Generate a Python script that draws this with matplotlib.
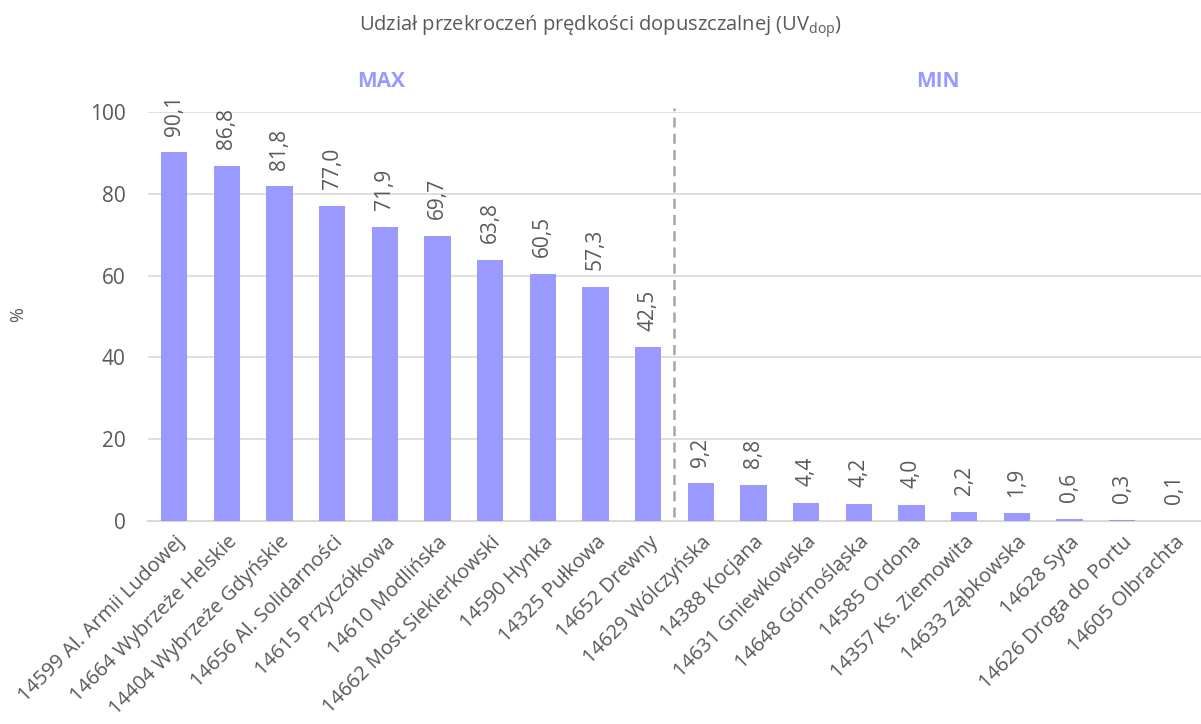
import matplotlib
matplotlib.use("Agg")
import matplotlib.pyplot as plt

plt.rcParams['font.family'] = ['Open Sans', 'DejaVu Sans']
plt.rcParams['mathtext.fontset'] = 'custom'
plt.rcParams['mathtext.rm'] = 'Open Sans'

categories = [
    "14599 Al. Armii Ludowej", "14664 Wybrzeże Helskie", "14404 Wybrzeże Gdyńskie",
    "14656 Al. Solidarności", "14615 Przyczółkowa", "14610 Modlińska",
    "14662 Most Siekierkowski", "14590 Hynka", "14325 Pułkowa", "14652 Drewny",
    "14629 Wólczyńska", "14388 Kocjana", "14631 Gniewkowska", "14648 Górnośląska",
    "14585 Ordona", "14357 Ks. Ziemowita", "14633 Ząbkowska", "14628 Syta",
    "14626 Droga do Portu", "14605 Olbrachta",
]
values = [90.1, 86.8, 81.8, 77.0, 71.9, 69.7, 63.8, 60.5, 57.3, 42.5,
          9.2, 8.8, 4.4, 4.2, 4.0, 2.2, 1.9, 0.6, 0.3, 0.1]
group_labels = ["MAX", "MIN"]

bar_color = "#9999ff"
text_color = "#595959"

fig = plt.figure(figsize=(12.01, 7.24), dpi=100)
ax = fig.add_axes([0.1232, 0.2804, 0.8768, 0.5649])

x = list(range(len(values)))
ax.bar(x, values, width=0.5, color=bar_color, zorder=3)

for xi, v in zip(x, values):
    ax.annotate(f"{v:.1f}".replace(".", ","), (xi, v), xytext=(0, 12),
                textcoords="offset points", rotation=90, ha="center", va="bottom",
                fontsize=15, color=text_color, clip_on=False)

ax.set_xlim(-0.5, len(values) - 0.5)
ax.set_ylim(0, 100)
ax.set_yticks([0, 20, 40, 60, 80, 100])
ax.yaxis.grid(True, color="#d9d9d9", linewidth=1.2, zorder=0)
ax.set_axisbelow(True)
for s in ["top", "right", "left"]:
    ax.spines[s].set_visible(False)
ax.spines["bottom"].set_color("#d9d9d9")
ax.spines["bottom"].set_linewidth(1.5)
ax.tick_params(axis="both", length=0, colors=text_color)
ax.tick_params(axis="y", labelsize=15, pad=16)
ax.set_xticks(x)
ax.set_xticklabels(categories, rotation=45, ha="right", rotation_mode="anchor",
                   fontsize=14.5, color=text_color)
ax.tick_params(axis="x", pad=8)

# separator between MAX and MIN groups
ax.plot([9.5, 9.5], [1, 101], linestyle=(0, (4, 2.5)), color="#a6a6a6",
        linewidth=1.8, clip_on=False, zorder=4)

ax.text(3.93, 107.5, group_labels[0], ha="center", va="center", fontsize=15,
        fontweight="bold", color=bar_color)
ax.text(14.5, 107.5, group_labels[1], ha="center", va="center", fontsize=15,
        fontweight="bold", color=bar_color)

fig.text(0.015, 0.565, "%", rotation=90, ha="center", va="center",
         fontsize=13, color=text_color)
fig.text(0.5, 0.963, r"Udział przekroczeń prędkości dopuszczalnej (UV$_{\mathrm{dop}}$)",
         ha="center", va="center", fontsize=14.5, color=text_color)

fig.savefig("out.png", dpi=100)
